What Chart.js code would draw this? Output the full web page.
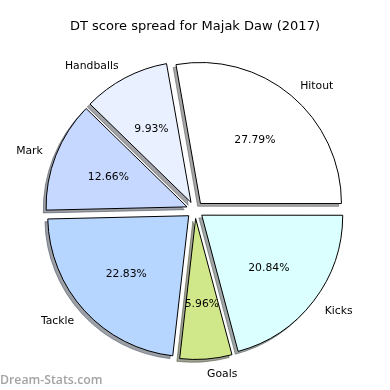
<!DOCTYPE html>
<html><head><meta charset="utf-8">
<script src="https://cdn.jsdelivr.net/npm/chart.js@4.4.1/dist/chart.umd.min.js"></script>
<style>html,body{margin:0;padding:0;background:#fff}#wrap{width:390px;height:390px}</style>
</head><body><div id="wrap"><canvas id="c" width="390" height="390"></canvas></div>
<script>
const titleText = 'DT score spread for Majak Daw (2017)';
const categories = ['Hitout', 'Kicks', 'Goals', 'Tackle', 'Mark', 'Handballs'];
const percentages = [27.79, 20.84, 5.96, 22.83, 12.66, 9.93];
const sliceColors = ['#ffffff', '#dbffff', '#d1e88a', '#b7d6ff', '#c6d8ff', '#e9f0ff'];
const watermark = 'Dream-Stats.com';

const RADIUS = 141, EXPLODE = 8.5, SHADOW = 2.8;
const FONT = '"DejaVu Sans", sans-serif';

function shadowColor(hex) {
  const h = hex.replace('#', '');
  const r = parseInt(h.substr(0, 2), 16), g = parseInt(h.substr(2, 2), 16), b = parseInt(h.substr(4, 2), 16);
  return `rgb(${Math.round(r * 0.3)},${Math.round(g * 0.3)},${Math.round(b * 0.3)})`;
}
function midAngle(el) { return (el.startAngle + el.endAngle) / 2; }

const piePlugin = {
  id: 'mplPie',
  beforeDatasetDraw(chart, args) {
    const ctx = chart.ctx, meta = args.meta;
    ctx.save();
    ctx.globalAlpha = 0.5;
    meta.data.forEach(el => {
      const a = midAngle(el);
      const orig = el.options;
      const sc = shadowColor(orig.backgroundColor);
      el.options = Object.assign({}, orig, { backgroundColor: sc, borderColor: sc });
      ctx.save();
      ctx.translate(Math.cos(a) * EXPLODE - SHADOW, Math.sin(a) * EXPLODE + SHADOW);
      el.draw(ctx);
      ctx.restore();
      el.options = orig;
    });
    ctx.restore();
    meta.data.forEach(el => {
      const a = midAngle(el);
      ctx.save();
      ctx.translate(Math.cos(a) * EXPLODE, Math.sin(a) * EXPLODE);
      el.draw(ctx);
      ctx.restore();
    });
    return false;
  },
  afterDatasetsDraw(chart) {
    const ctx = chart.ctx;
    const meta = chart.getDatasetMeta(0);
    ctx.save();
    ctx.fillStyle = '#000';
    ctx.textBaseline = 'middle';
    ctx.font = '10.8px ' + FONT;
    meta.data.forEach((el, i) => {
      const a = midAngle(el);
      const cx = el.x + Math.cos(a) * EXPLODE, cy = el.y + Math.sin(a) * EXPLODE + 1.2;
      const R = el.outerRadius;
      const lx = cx + 1.1 * R * Math.cos(a), ly = cy + 1.1 * R * Math.sin(a);
      ctx.textAlign = lx > el.x ? 'left' : 'right';
      ctx.fillText(categories[i], lx, ly);
      ctx.textAlign = 'center';
      ctx.fillText(percentages[i].toFixed(2) + '%', cx + 0.6 * R * Math.cos(a), cy + 0.6 * R * Math.sin(a));
    });
    ctx.font = '13px ' + FONT;
    ctx.textAlign = 'center';
    ctx.textBaseline = 'alphabetic';
    ctx.fillText(titleText, 195, 30);
    ctx.font = '600 12.3px "Open Sans", sans-serif';
    ctx.fillStyle = '#a3a3a3';
    ctx.textAlign = 'left';
    ctx.fillText(watermark, 0, 384);
    ctx.restore();
  }
};

new Chart(document.getElementById('c'), {
  type: 'pie',
  data: {
    labels: categories,
    datasets: [{
      data: percentages,
      backgroundColor: sliceColors,
      borderColor: '#000',
      borderWidth: 1,
      borderJoinStyle: 'miter',
      offset: 0,
      hoverOffset: 0,
      clip: false
    }]
  },
  options: {
    responsive: false,
    animation: false,
    events: [],
    rotation: -10,
    radius: RADIUS,
    layout: { padding: { top: 50, bottom: 20, left: 40, right: 40 } },
    plugins: { legend: { display: false }, tooltip: { enabled: false }, title: { display: false } }
  },
  plugins: [piePlugin]
});
</script></body></html>
